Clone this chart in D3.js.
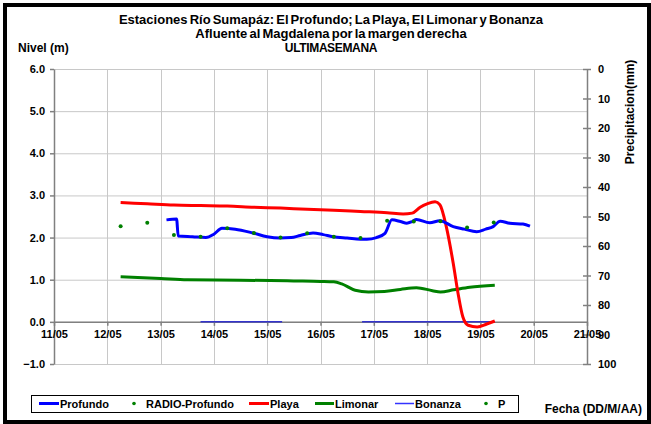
<!DOCTYPE html>
<html>
<head>
<meta charset="utf-8">
<script src="https://cdn.jsdelivr.net/npm/d3@7"></script>
<style>
  body { margin: 0; background: #fff; }
  text { font-family: "Liberation Sans", Arial, sans-serif; font-weight: bold; fill: #000; }
</style>
</head>
<body>
<svg id="chart" width="651" height="424"></svg>
<script>
// tick labels
const dayLabels = ['11/05', '12/05', '13/05', '14/05', '15/05', '16/05', '17/05', '18/05', '19/05', '20/05', '21/05'];
const levelTicks = [-1, 0, 1, 2, 3, 4, 5, 6];
const rainTicks = [0, 10, 20, 30, 40, 50, 60, 70, 80, 90, 100];

// series: [day of May, level in m]
const profundo = [
  [13.11, 2.42], [13.30, 2.44], [13.33, 2.04], [13.60, 2.02], [13.85, 2.00], [14.00, 2.08],
  [14.15, 2.22], [14.40, 2.20], [14.73, 2.11], [15.00, 2.02], [15.24, 1.99], [15.45, 2.00],
  [15.62, 2.05], [15.86, 2.11], [16.05, 2.07], [16.23, 2.02], [16.50, 1.99], [16.87, 1.96],
  [17.05, 2.00], [17.21, 2.10], [17.34, 2.42], [17.50, 2.38], [17.62, 2.34], [17.72, 2.38],
  [17.80, 2.43], [18.05, 2.35], [18.24, 2.40], [18.49, 2.26], [18.70, 2.20], [18.93, 2.14],
  [19.10, 2.20], [19.24, 2.26], [19.37, 2.39], [19.55, 2.34], [19.80, 2.32], [19.93, 2.27]
];
const radioProfundo = [
  [12.25, 2.27], [12.75, 2.35], [13.25, 2.06], [13.75, 2.02], [14.25, 2.22], [14.75, 2.11],
  [15.25, 2.00], [15.75, 2.10], [16.25, 2.02], [16.75, 1.99], [17.25, 2.40], [17.75, 2.38],
  [18.25, 2.39], [18.75, 2.24], [19.25, 2.36]
];
const playa = [
  [12.25, 2.83], [12.75, 2.80], [13.25, 2.77], [13.75, 2.76], [14.25, 2.75], [14.75, 2.72],
  [15.25, 2.70], [15.75, 2.67], [16.25, 2.65], [16.75, 2.62], [17.25, 2.59], [17.55, 2.56],
  [17.72, 2.58], [17.87, 2.72], [18.00, 2.80], [18.15, 2.85], [18.24, 2.78], [18.36, 2.26],
  [18.49, 1.39], [18.58, 0.68], [18.67, 0.12], [18.77, -0.08], [18.94, -0.12], [19.12, -0.05],
  [19.27, 0.02]
];
const limonar = [
  [12.25, 1.07], [13.00, 1.03], [13.50, 1.00], [14.50, 0.99], [15.50, 0.97], [16.00, 0.96],
  [16.25, 0.95], [16.40, 0.90], [16.65, 0.75], [16.90, 0.71], [17.20, 0.72], [17.50, 0.77],
  [17.80, 0.81], [18.10, 0.74], [18.25, 0.71], [18.50, 0.76], [18.80, 0.82], [19.27, 0.87]
];
const bonanza = [
  [13.75, 0], [14.25, 0], [14.75, 0], [15.28, 0], [15.75, null], [16.25, null],
  [16.78, 0], [17.25, 0], [17.75, 0], [18.25, 0], [18.75, 0], [19.27, 0]
];
const precip = [];

const svg = d3.select('#chart');
const x = d3.scaleLinear().domain([11, 21]).range([54, 587]);
const y = d3.scaleLinear().domain([-1, 6]).range([364, 69]);
const yR = d3.scaleLinear().domain([0, 100]).range([69, 364]);

// outer frame
svg.append('rect').attr('x', 5).attr('y', 5).attr('width', 644).attr('height', 417)
  .attr('fill', 'none').attr('stroke', '#000').attr('stroke-width', 4);

// grid
const grid = svg.append('g').attr('stroke', '#c8c8c8').attr('stroke-width', 1);
grid.selectAll('.h').data(levelTicks).enter().append('line')
  .attr('x1', x(11)).attr('x2', x(21))
  .attr('y1', d => y(d) + 0.5).attr('y2', d => y(d) + 0.5);
grid.selectAll('.v').data(d3.range(12, 21)).enter().append('line')
  .attr('x1', d => Math.round(x(d)) + 0.5).attr('x2', d => Math.round(x(d)) + 0.5)
  .attr('y1', y(6)).attr('y2', y(-1));

// axes
const axisColor = '#808080';
const left = svg.append('g').attr('transform', `translate(${x(11)},0)`)
  .call(d3.axisLeft(y).tickValues(levelTicks).tickFormat(d3.format('.1f')).tickSize(4).tickSizeOuter(0));
const right = svg.append('g').attr('transform', `translate(${x(21)},0)`)
  .call(d3.axisRight(yR).tickValues(rainTicks).tickSize(4).tickSizeOuter(0));
right.selectAll('.tick line').attr('x1', -4);
const bottom = svg.append('g').attr('transform', `translate(0,${y(0)})`)
  .call(d3.axisBottom(x).tickValues(d3.range(11, 22)).tickFormat(d => dayLabels[d - 11]).tickSize(4).tickSizeOuter(0));

[left, right, bottom].forEach(g => {
  g.selectAll('path, line').attr('stroke', axisColor).attr('stroke-width', 1.5);
  g.selectAll('text').attr('font-size', 11).attr('font-family', null);
});
left.selectAll('text').attr('x', -9);
right.selectAll('text').attr('x', 11);
bottom.selectAll('text').attr('y', 8);

// series
const line = d3.line()
  .defined(d => d[1] !== null)
  .x(d => x(d[0])).y(d => y(d[1]))
  .curve(d3.curveMonotoneX);

svg.append('path').datum(bonanza).attr('d', line)
  .attr('fill', 'none').attr('stroke', '#3333cc').attr('stroke-width', 1.5);
svg.append('path').datum(limonar).attr('d', line)
  .attr('fill', 'none').attr('stroke', '#008000').attr('stroke-width', 3);
svg.append('path').datum(playa).attr('d', line)
  .attr('fill', 'none').attr('stroke', '#ff0000').attr('stroke-width', 3);
svg.append('path').datum(profundo).attr('d', line)
  .attr('fill', 'none').attr('stroke', '#0000ff').attr('stroke-width', 3);
svg.selectAll('.radio').data(radioProfundo).enter().append('circle')
  .attr('cx', d => x(d[0])).attr('cy', d => y(d[1])).attr('r', 2).attr('fill', '#008000');
svg.selectAll('.p').data(precip).enter().append('circle')
  .attr('cx', d => x(d[0])).attr('cy', d => yR(d[1])).attr('r', 2).attr('fill', '#008000');

// titles
const titles = [
  { t: 'Estaciones Río Sumapáz: El Profundo; La Playa, El Limonar y Bonanza', size: 13, ls: 0, ws: -1.5 },
  { t: 'Afluente al Magdalena por la margen derecha', size: 13, ls: 0, ws: -1.5 },
  { t: 'ULTIMA SEMANA', size: 12, ls: -0.3, ws: -3 }
];
svg.selectAll('.title').data(titles).enter().append('text')
  .attr('x', 331).attr('y', (d, i) => 24 + i * 14)
  .attr('text-anchor', 'middle').attr('font-size', d => d.size)
  .attr('letter-spacing', d => d.ls).attr('word-spacing', d => d.ws)
  .text(d => d.t);

svg.append('text').attr('x', 18).attr('y', 52).attr('font-size', 12).text('Nivel (m)');
svg.append('text').attr('transform', 'translate(634,112) rotate(-90)')
  .attr('text-anchor', 'middle').attr('font-size', 12).text('Precipitacion(mm)');
svg.append('text').attr('x', 642).attr('y', 413).attr('text-anchor', 'end')
  .attr('font-size', 12).text('Fecha (DD/M/AA)');

// legend
const legendItems = [
  { name: 'Profundo', type: 'line', color: '#0000ff', w: 3, x0: 39, x1: 59, tx: 60 },
  { name: 'RADIO-Profundo', type: 'dot', color: '#008000', x0: 134, tx: 146 },
  { name: 'Playa', type: 'line', color: '#ff0000', w: 3, x0: 249, x1: 269, tx: 270 },
  { name: 'Limonar', type: 'line', color: '#008000', w: 3, x0: 315, x1: 334, tx: 335 },
  { name: 'Bonanza', type: 'line', color: '#3333ff', w: 1.5, x0: 395, x1: 414, tx: 415 },
  { name: 'P', type: 'dot', color: '#008000', x0: 486, tx: 498 }
];
const ly = 403.5;
const legend = svg.append('g');
legend.append('rect').attr('x', 31.5).attr('y', 395.5).attr('width', 487).attr('height', 17)
  .attr('fill', '#fff').attr('stroke', '#000').attr('stroke-width', 1);
legendItems.forEach(it => {
  if (it.type === 'line') {
    legend.append('line').attr('x1', it.x0).attr('x2', it.x1).attr('y1', ly).attr('y2', ly)
      .attr('stroke', it.color).attr('stroke-width', it.w);
  } else {
    legend.append('circle').attr('cx', it.x0).attr('cy', ly).attr('r', 1.8).attr('fill', it.color);
  }
  legend.append('text').attr('x', it.tx).attr('y', ly + 4).attr('font-size', 11).text(it.name);
});
</script>
</body>
</html>
